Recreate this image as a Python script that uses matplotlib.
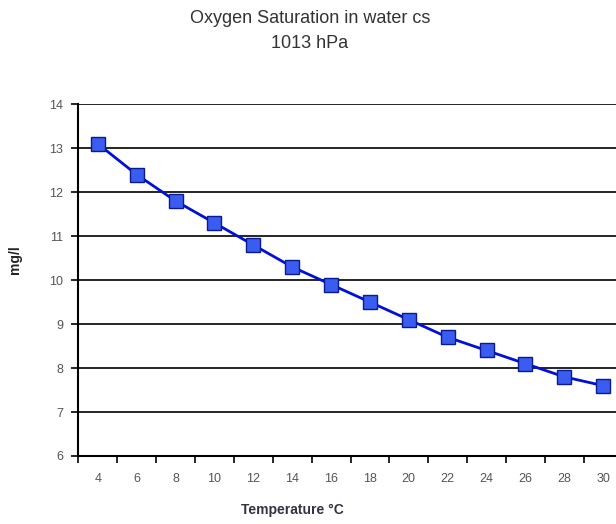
import numpy as np
import matplotlib.pyplot as plt

# dissolved oxygen saturation at 1013 hPa
temps = [4, 6, 8, 10, 12, 14, 16, 18, 20, 22, 24, 26, 28, 30]
oxygen = [13.1, 12.4, 11.8, 11.3, 10.8, 10.3, 9.9, 9.5, 9.1, 8.7, 8.4, 8.1, 7.8, 7.6]
y_ticks = [6, 7, 8, 9, 10, 11, 12, 13, 14]

plt.rcParams['font.family'] = ['Liberation Sans', 'DejaVu Sans']

fig = plt.figure(figsize=(6.16, 5.24), dpi=100)
ax = fig.add_axes([0.1273, 0.1298, 0.8834, 0.6712])

pos = np.arange(len(temps))
ax.plot(pos, oxygen, color='#0010d8', linewidth=2.0, marker='s',
        markersize=10.5, markerfacecolor='#3a5cf0', markeredgecolor='#0a1a90',
        markeredgewidth=1.0, zorder=3)

ax.set_xlim(-0.5, len(temps) - 0.5)
ax.set_ylim(6, 14)
ax.set_yticks(y_ticks)
ax.yaxis.grid(True, color='black', linewidth=1.2)
ax.set_axisbelow(True)

# category labels centred, tick marks between categories
ax.set_xticks(pos)
ax.set_xticklabels([str(t) for t in temps])
ax.set_xticks(np.arange(len(temps) + 1) - 0.5, minor=True)
ax.tick_params(axis='x', which='major', length=0, pad=12, labelsize=9, colors='#555555')
ax.tick_params(axis='x', which='minor', length=5, width=1.2, direction='out', color='black')
ax.tick_params(axis='y', length=5, width=1.2, direction='out', color='black',
               labelsize=9, labelcolor='#555555', pad=6)

for side in ['top', 'right']:
    ax.spines[side].set_visible(False)
for side in ['left', 'bottom']:
    ax.spines[side].set_linewidth(1.5)
    ax.spines[side].set_color('black')

fig.text(0.474, 0.027, 'Temperature °C', ha='center', va='center',
         fontsize=10, fontweight='bold', color='#333344')
fig.text(0.025, 0.505, 'mg/l', ha='center', va='center', rotation=90,
         fontsize=10, fontweight='bold', color='#222222')

fig.text(0.503, 0.965, 'Oxygen Saturation in water cs', ha='center', va='center',
         fontsize=13, color='#333333')
fig.text(0.503, 0.917, '1013 hPa', ha='center', va='center',
         fontsize=13, color='#333333')

fig.savefig('out.png', dpi=100)
